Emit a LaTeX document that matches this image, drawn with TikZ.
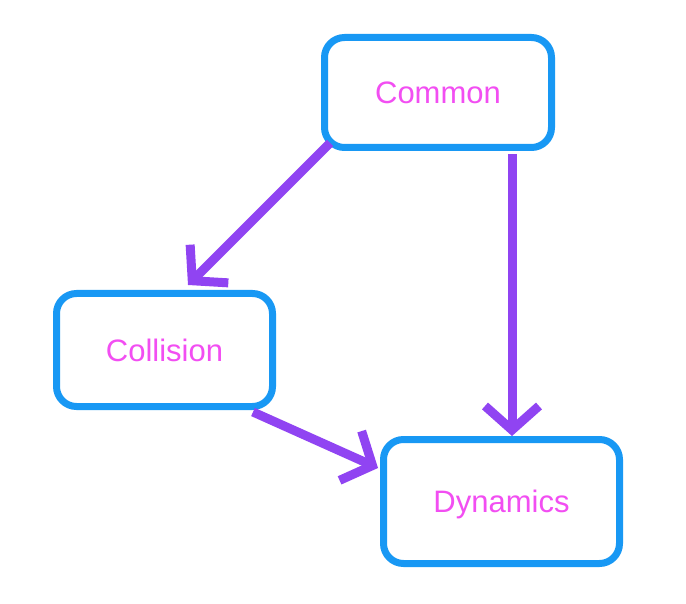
\documentclass[tikz,border=0pt]{standalone}
\usepackage{fontspec}
\setmainfont{Liberation Sans}
\usetikzlibrary{arrows.meta,calc}
\definecolor{boxblue}{HTML}{1898F4}
\definecolor{arrpurple}{HTML}{9044F2}
\definecolor{txtpink}{HTML}{F24EF2}
\tikzset{
  modbox/.style={draw=boxblue, line width=7pt, rounded corners=20pt, inner sep=0pt,
    text=txtpink, font=\fontsize{31pt}{31pt}\selectfont, text height=22pt, text depth=0pt},
  deparrow/.style={draw=arrpurple, line width=9pt,
    -{Straight Barb[length=24pt,width=54pt,sharp]}}
}
\begin{document}
\begin{tikzpicture}[x=1pt,y=-1pt]
\useasboundingbox[fill=white] (0,0) rectangle (686,604);
\node[modbox, minimum width=227pt, minimum height=110pt] (common) at (438,92.5) {Common};
\node[modbox, minimum width=216pt, minimum height=113pt] (collision) at (164.5,350) {Collision};
\node[modbox, minimum width=236pt, minimum height=124pt] (dynamics) at (501.5,501.5) {Dynamics};
\coordinate (a1s) at ($(common.south west)+(9,-8)$);
\coordinate (a1e) at ($(collision.north)+(23.5,-5)$);
\coordinate (a2s) at ($(common.south)+(74,3)$);
\coordinate (a3s) at ($(collision.south)+(88.5,2)$);
\coordinate (a3e) at ($(dynamics.west)+(-2,-33.5)$);
\draw[deparrow] (a1s) -- (a1e);
\draw[deparrow] (a2s) -- (a2s |- dynamics.north);
\draw[deparrow] (a3s) -- (a3e);
\end{tikzpicture}
\end{document}
